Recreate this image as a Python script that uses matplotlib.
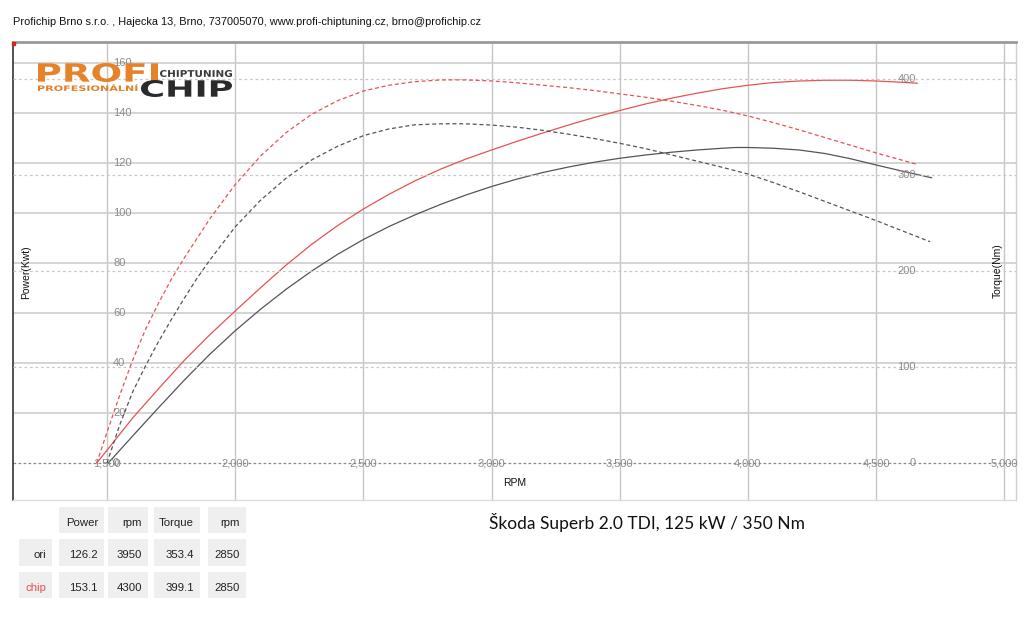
import matplotlib
matplotlib.use("Agg")
import matplotlib.pyplot as plt
from matplotlib.patches import Rectangle, PathPatch
from matplotlib.textpath import TextPath
from matplotlib.font_manager import FontProperties
import matplotlib.transforms as mtransforms

plt.rcParams['font.family'] = ['Liberation Sans', 'DejaVu Sans']

W, H = 1024, 631

header = "Profichip Brno s.r.o. , Hajecka 13, Brno, 737005070, www.profi-chiptuning.cz, brno@profichip.cz"
title = "Škoda Superb 2.0 TDI, 125 kW / 350 Nm"

rpm_ticks = [1500, 2000, 2500, 3000, 3500, 4000, 4500, 5000]
power_ticks = [0, 20, 40, 60, 80, 100, 120, 140, 160]
torque_ticks = [0, 100, 200, 300, 400]

ori_power_rpm = [1505, 1600, 1700, 1800, 1900, 2000, 2100, 2200, 2300, 2400, 2500,
                 2600, 2700, 2800, 2900, 3000, 3100, 3200, 3300, 3400, 3500, 3600,
                 3700, 3800, 3900, 3950, 4000, 4100, 4200, 4300, 4400, 4500, 4600, 4716]
ori_power = [0, 10.8, 22.0, 33.0, 43.4, 52.9, 61.6, 69.6, 76.9, 83.5, 89.4,
             94.6, 99.2, 103.4, 107.2, 110.6, 113.6, 116.2, 118.4, 120.3, 121.9, 123.2,
             124.3, 125.2, 125.9, 126.2, 126.2, 125.9, 125.2, 123.8, 121.7, 119.2, 116.8, 114.1]

chip_power_rpm = [1460, 1500, 1600, 1700, 1800, 1900, 2000, 2100, 2200, 2300, 2400,
                  2500, 2600, 2700, 2800, 2900, 3000, 3100, 3200, 3300, 3400, 3500,
                  3600, 3700, 3800, 3900, 4000, 4100, 4200, 4300, 4400, 4500, 4600, 4660]
chip_power = [0, 5.1, 18.0, 29.6, 40.9, 51.2, 60.8, 70.2, 79.3, 87.6, 95.0,
              101.6, 107.5, 112.8, 117.5, 121.6, 125.2, 128.7, 132.0, 135.2, 138.2, 141.0,
              143.6, 145.9, 147.9, 149.7, 151.1, 152.2, 152.8, 153.1, 153.1, 152.8, 152.3, 151.9]

ori_torque_rpm = [1500, 1550, 1600, 1650, 1700, 1750, 1800, 1850, 1900, 2000, 2100,
                  2200, 2300, 2400, 2500, 2600, 2700, 2800, 2850, 2900, 3000, 3100,
                  3200, 3300, 3400, 3500, 3600, 3700, 3800, 3900, 4000, 4100, 4200,
                  4300, 4400, 4500, 4600, 4710]
ori_torque = [0, 40, 74, 101, 126, 149, 171, 192, 211, 246, 274,
              297, 316, 330, 341, 348, 352.3, 353.3, 353.4, 353.3, 352, 349.8,
              346.5, 342.5, 338, 333, 327.5, 321, 314.5, 308, 301, 292, 282.5,
              272.5, 262.5, 252.5, 242, 230.5]

chip_torque_rpm = [1460, 1500, 1550, 1600, 1650, 1700, 1750, 1800, 1900, 2000, 2100,
                   2200, 2300, 2400, 2500, 2600, 2700, 2800, 2850, 2900, 3000, 3100,
                   3200, 3300, 3400, 3500, 3600, 3700, 3800, 3900, 4000, 4100, 4200,
                   4300, 4400, 4500, 4600, 4660]
chip_torque = [0, 32, 71, 107, 139, 166, 191, 213, 254, 290, 320,
               344.5, 363.5, 377.5, 387.5, 393.5, 397.2, 399.0, 399.1, 399.0, 398, 396,
               393.5, 391, 388, 384.5, 381, 377, 372.5, 367.5, 361.5, 354.5, 347,
               339, 331, 323, 315.5, 311]

table_cols = ["Power", "rpm", "Torque", "rpm"]
table_rows = ["ori", "chip"]
table_vals = [["126.2", "3950", "353.4", "2850"],
              ["153.1", "4300", "399.1", "2850"]]

RED = '#e85252'
DARK = '#555555'
TICK = '#8c8c8c'

fig = plt.figure(figsize=(W / 100, H / 100), dpi=100)


def fx(x):
    return x / W


def fy(y):
    return 1 - y / H


# plot frame in pixels
L, R, T, B = 13, 1016, 42, 500
ax = fig.add_axes([fx(L), fy(B), (R - L) / W, (B - T) / H])


def px2rpm(x):
    return 1500 + (x - 107) * 500 / 128.2


ax.set_xlim(px2rpm(L), px2rpm(R))
ax.set_ylim((463 - B) / 2.5, (463 - T) / 2.5)
ax2 = ax.twinx()
ax2.set_ylim((463 - B) / 0.96, (463 - T) / 0.96)

for a in (ax, ax2):
    a.set_xticks([])
    a.set_yticks([])
    for s in a.spines.values():
        s.set_visible(False)

ax.spines['left'].set_visible(True)
ax.spines['left'].set_color('#333333')
ax.spines['left'].set_linewidth(1.2)
ax.spines['top'].set_visible(True)
ax.spines['top'].set_color('#9a9a9a')
ax.spines['top'].set_linewidth(2.0)
ax.spines['bottom'].set_visible(True)
ax.spines['bottom'].set_color('#dddddd')
ax.spines['bottom'].set_linewidth(1.0)
ax.spines['right'].set_visible(True)
ax.spines['right'].set_color('#d0d0d0')
ax.spines['right'].set_linewidth(1.0)

# grid
for r in rpm_ticks:
    ax.axvline(r, color='#c6c6c6', lw=1.0, zorder=0)
for p in power_ticks[1:]:
    ax.axhline(p, color='#cdcdcd', lw=1.2, zorder=0)
for t in torque_ticks[1:]:
    ax2.axhline(t, color='#c8c8c8', lw=0.9, dashes=(2.2, 2.2), zorder=0)
ax.axhline(0, color='#8a8a8a', lw=0.9, dashes=(2.2, 1.8), zorder=1)

# curves
ax.plot(ori_power_rpm, ori_power, color=DARK, lw=0.9, zorder=3)
ax.plot(chip_power_rpm, chip_power, color=RED, lw=0.9, zorder=3)
ax2.plot(ori_torque_rpm, ori_torque, color=DARK, lw=0.9, dashes=(3.2, 2.2), zorder=3)
ax2.plot(chip_torque_rpm, chip_torque, color=RED, lw=0.9, dashes=(3.2, 2.2), zorder=3)

# tick labels
tfs = 8
for r in rpm_ticks:
    ax.text(r, 0, f"{r:,}", ha='center', va='center', fontsize=tfs, color=TICK, zorder=4)
btr = mtransforms.blended_transform_factory(ax.transAxes, ax.transData)
for p in power_ticks:
    ax.text((113 - L) / (R - L), p, f"{p}", transform=btr, ha='left', va='center',
            fontsize=tfs, color=TICK, zorder=4)
btr2 = mtransforms.blended_transform_factory(ax2.transAxes, ax2.transData)
for t in torque_ticks:
    ax2.text((916 - L) / (R - L), t, f"{t}", transform=btr2, ha='right', va='center',
             fontsize=tfs, color=TICK, zorder=4)

# axis labels
fig.text(fx(26), fy(272), "Power(Kwt)", rotation=90, ha='center', va='center', fontsize=7.5, color='#111111')
fig.text(fx(998), fy(271), "Torque(Nm)", rotation=90, ha='center', va='center', fontsize=7.5, color='#111111')
fig.text(fx(515), fy(483), "RPM", ha='center', va='center', fontsize=7.5, color='#111111')

# header
fig.text(fx(13), fy(22), header, ha='left', va='center', fontsize=7.95, color='#111111')

# small red corner mark
fig.patches.append(Rectangle((fx(12), fy(45)), 3 / W, 3 / H, transform=fig.transFigure,
                             color='#dd2222', zorder=10))


# logo (approximation, stretched text paths)
def fit_text(s, x0, x1, y0, y1, color, weight='bold'):
    tp = TextPath((0, 0), s, size=100, prop=FontProperties(family='DejaVu Sans', weight=weight))
    bb = tp.get_extents()
    sx = (x1 - x0) / bb.width
    sy = (y1 - y0) / bb.height
    tr = (mtransforms.Affine2D().translate(-bb.x0, -bb.y0).scale(sx, sy)
          .translate(x0, H - y1).scale(1 / 100.0)) + fig.dpi_scale_trans
    patch = PathPatch(tp, transform=tr, facecolor=color, edgecolor='none', zorder=10)
    fig.add_artist(patch)


fit_text("PROFI", 38, 158, 63, 82, '#e8822a')
fit_text("PROFESIONÁLNÍ", 38, 138, 84, 91, '#e0802a')
fit_text("CHIPTUNING", 160, 232, 70, 77, '#3a3a3a')
fit_text("CHIP", 141, 232, 80, 97, '#2a2a2a')

# title
fig.text(fx(489), fy(522), title, ha='left', va='center', fontsize=12.5, color='#111111',
         family=['Lato', 'DejaVu Sans'])

# table
col_x = [(59, 104), (108, 148), (154, 200), (208, 246)]
row_y = [(539, 566), (572, 598)]
head_y = (507, 533)
lab_x = (19, 52)
CELL = '#efefef'


def cell(x0, x1, y0, y1, text, color='#222222'):
    fig.patches.append(Rectangle((fx(x0), fy(y1)), (x1 - x0) / W, (y1 - y0) / H,
                                 transform=fig.transFigure, facecolor=CELL, edgecolor='none'))
    fig.text(fx(x1 - 6), fy((y0 + y1) / 2 + 3), text, ha='right', va='center',
             fontsize=8.2, color=color)


for (x0, x1), c in zip(col_x, table_cols):
    cell(x0, x1, head_y[0], head_y[1], c)
for i, (rname, vals) in enumerate(zip(table_rows, table_vals)):
    y0, y1 = row_y[i]
    cell(lab_x[0], lab_x[1], y0, y1, rname, color=RED if rname == 'chip' else '#222222')
    for (x0, x1), v in zip(col_x, vals):
        cell(x0, x1, y0, y1, v)

fig.savefig("out.png", dpi=100, facecolor='white')
